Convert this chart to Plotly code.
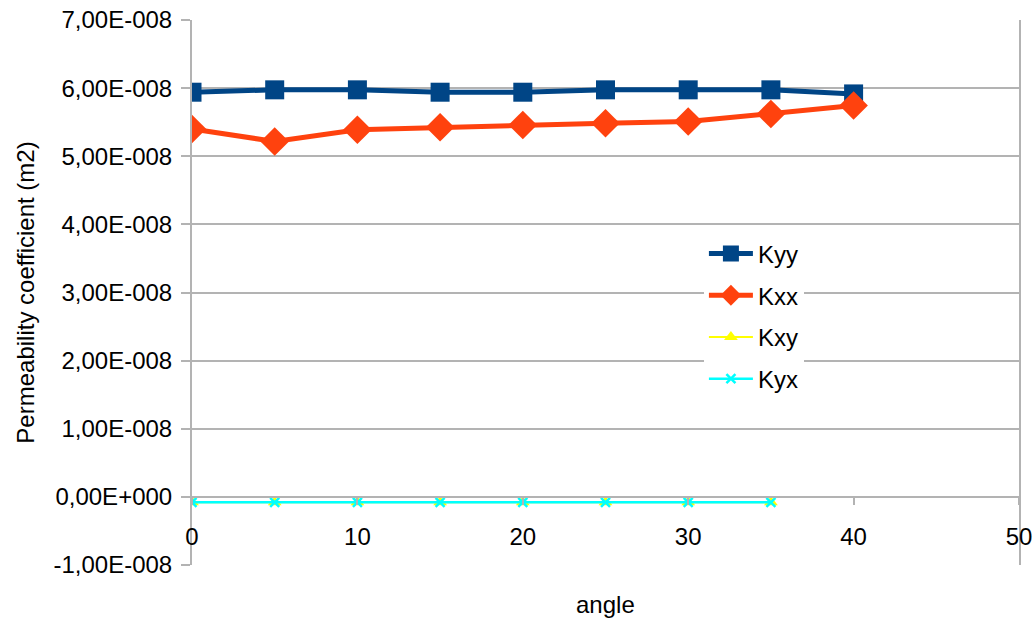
import plotly.graph_objects as go

angles = [0, 5, 10, 15, 20, 25, 30, 35, 40]
kyy = [5.94e-8, 5.975e-8, 5.975e-8, 5.94e-8, 5.94e-8, 5.975e-8, 5.975e-8, 5.975e-8, 5.915e-8]
kxx = [5.40e-8, 5.217e-8, 5.388e-8, 5.426e-8, 5.458e-8, 5.485e-8, 5.51e-8, 5.62e-8, 5.744e-8]
angles_off = [0, 5, 10, 15, 20, 25, 30, 35]
kxy = [-7.9e-10] * 8
kyx = [-7.9e-10] * 8

y_tickvals = [-1e-8, 0, 1e-8, 2e-8, 3e-8, 4e-8, 5e-8, 6e-8, 7e-8]
y_ticktext = ["-1,00E-008", "0,00E+000", "1,00E-008", "2,00E-008", "3,00E-008",
              "4,00E-008", "5,00E-008", "6,00E-008", "7,00E-008"]
x_tickvals = [0, 10, 20, 30, 40, 50]

FONT = "Liberation Sans, Arial, sans-serif"
FS = 24
GRID = "#b3b3b3"

fig = go.Figure()
fig.add_trace(go.Scatter(x=angles, y=kyy, name="Kyy", mode="lines+markers",
                         line=dict(color="#004586", width=5),
                         marker=dict(symbol="square", size=19, color="#004586")))
fig.add_trace(go.Scatter(x=angles, y=kxx, name="Kxx", mode="lines+markers",
                         line=dict(color="#ff420e", width=5),
                         marker=dict(symbol="diamond", size=22, color="#ff420e")))
fig.add_trace(go.Scatter(x=angles_off, y=kxy, name="Kxy", mode="lines+markers",
                         line=dict(color="#ffff00", width=2),
                         marker=dict(symbol="triangle-up", size=12, color="#ffff00")))
fig.add_trace(go.Scatter(x=angles_off, y=kyx, name="Kyx", mode="lines+markers",
                         line=dict(color="#00ffff", width=2.5),
                         marker=dict(symbol="x-thin", size=9, color="#00ffff",
                                     line=dict(color="#00ffff", width=2.5))))

y0_frac = (0 - (-1e-8)) / (7e-8 - (-1e-8))

fig.update_layout(
    width=1035, height=620,
    margin=dict(l=192, r=16, t=20, b=55, autoexpand=False),
    paper_bgcolor="white", plot_bgcolor="white",
    font=dict(family=FONT, size=FS, color="#000000"),
    showlegend=True,
    legend=dict(x=0.619, y=0.612, xanchor="left", yanchor="top",
                bgcolor="white", borderwidth=0, itemwidth=44,
                font=dict(family=FONT, size=FS),
                tracegroupgap=7.5),
    xaxis=dict(range=[0, 50], tickvals=x_tickvals, ticks="outside", ticklen=7,
               tickcolor=GRID, tickwidth=1.5,
               showline=True, linecolor=GRID, linewidth=2,
               showgrid=False, zeroline=False, automargin=False,
               anchor="free", position=y0_frac,
               ticklabelstandoff=11),
    yaxis=dict(range=[-1e-8, 7e-8], tickvals=y_tickvals, ticktext=y_ticktext,
               ticks="outside", ticklen=9, tickcolor=GRID, tickwidth=1.5,
               showline=True, linecolor=GRID, linewidth=2, mirror=True,
               showgrid=True, gridcolor=GRID, gridwidth=1.5, zeroline=False,
               ticklabelstandoff=4, automargin=False,
               title=dict(text="Permeability coefficient (m2)", standoff=12,
                          font=dict(family=FONT, size=FS))),
    annotations=[dict(text="angle", x=0.5, xref="paper", y=-0.073, yref="paper",
                      xanchor="center", yanchor="middle", showarrow=False,
                      font=dict(family=FONT, size=FS))],
)

for i, tr in enumerate(fig.data):
    tr.legendgroup = f"g{i}"
fig.update_layout(legend_traceorder="grouped")

fig.write_html("out.html")
